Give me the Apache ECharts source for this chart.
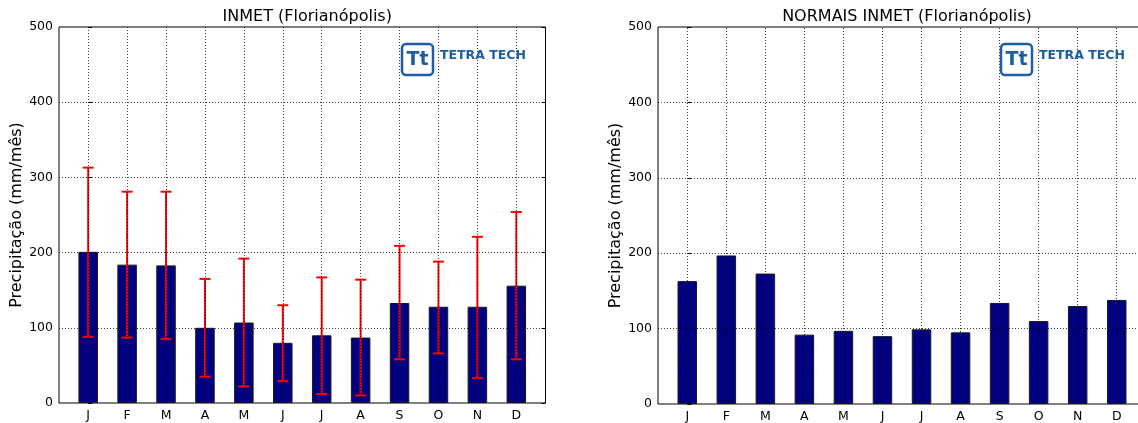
<!DOCTYPE html>
<html>
<head>
<meta charset="utf-8">
<script src="https://cdn.jsdelivr.net/npm/echarts@6/dist/echarts.min.js"></script>
<style>
html,body{margin:0;padding:0;background:#fff;}
#chart{width:1138px;height:423px;}
</style>
</head>
<body>
<div id="chart"></div>
<script>
// ---- data ----
const months = ['J','F','M','A','M','J','J','A','S','O','N','D'];
const inmetMean = [201, 184, 183, 100, 107, 80, 90, 87, 133, 128, 128, 156];
const inmetLow  = [88, 87, 85, 35, 22, 29, 12, 10, 58, 66, 33, 58];
const inmetHigh = [313, 281, 281, 165, 192, 130, 167, 164, 209, 188, 221, 254];
const normais   = [163, 197, 173, 92, 97, 90, 99, 95, 134, 110, 130, 138];
const yTicks = [0, 100, 200, 300, 400, 500];
const titles = ['INMET (Florianópolis)', 'NORMAIS INMET (Florianópolis)'];
const yName = 'Precipitação (mm/mês)';
const logoText = 'TETRA TECH';

// ---- layout ----
const FONT = 'DejaVu Sans';
const grids = [
  {left: 59, top: 27, width: 486.5, height: 376},
  {left: 658, top: 27, width: 488, height: 377}
];
const idx = months.map((_, i) => i);
const blue = '#1d5ea5';

const chart = echarts.init(document.getElementById('chart'), null, {renderer: 'canvas'});

function xAxisFor(g) {
  return {
    type: 'value', gridIndex: g, min: -0.75, max: 11.75,
    axisLine: {show: false},
    splitLine: {show: false},
    axisTick: {show: true, inside: true, length: 4, customValues: idx, lineStyle: {color: '#000'}},
    axisLabel: {
      customValues: idx, margin: 6,
      formatter: v => months[Math.round(v)],
      color: '#000', fontFamily: FONT, fontSize: 12.5
    }
  };
}
function yAxesFor(g, nameGap) {
  return [{
    type: 'value', gridIndex: g, min: yTicks[0], max: yTicks[yTicks.length - 1], interval: 100,
    name: yName, nameLocation: 'middle', nameGap: nameGap, nameRotate: 90,
    nameTextStyle: {fontFamily: FONT, fontSize: 16, color: '#000'},
    axisLine: {show: false},
    splitLine: {show: false},
    axisTick: {show: true, inside: true, length: 4, lineStyle: {color: '#000'}},
    axisLabel: {color: '#000', fontFamily: FONT, fontSize: 12.5, margin: 6}
  }, {
    type: 'value', gridIndex: g, position: 'right', min: yTicks[0], max: yTicks[yTicks.length - 1], interval: 100,
    axisLine: {show: false}, splitLine: {show: false},
    axisTick: {show: true, inside: true, length: 4, lineStyle: {color: '#000'}},
    axisLabel: {show: false}
  }];
}
function gridLines(xi, yi) {
  return {
    type: 'line', xAxisIndex: xi, yAxisIndex: yi, data: [], z: 10, silent: true,
    markLine: {
      silent: true, symbol: 'none', animation: false,
      label: {show: false},
      lineStyle: {color: '#000', type: [1, 2], width: 1, opacity: 0.75},
      emphasis: {disabled: true},
      data: idx.map(i => ({xAxis: i})).concat(yTicks.slice(1, -1).map(v => ({yAxis: v})))
    }
  };
}
function barSeries(xi, yi, vals) {
  return {
    type: 'bar', xAxisIndex: xi, yAxisIndex: yi, barWidth: 19.5, z: 2,
    data: vals.map((v, i) => [i, v]),
    itemStyle: {color: '#000080', borderColor: '#1a1a1a', borderWidth: 1},
    silent: true
  };
}
function logo(x0) {
  return [
    {type: 'rect', shape: {x: x0, y: 44, width: 31, height: 31, r: 4},
     style: {fill: '#fff', stroke: blue, lineWidth: 2.5}, z: 100},
    {type: 'text', x: x0 + 15.5, y: 60, z: 101,
     style: {text: 'Tt', fill: blue, font: 'bold 19px "DejaVu Sans"', textAlign: 'center', textVerticalAlign: 'middle'}},
    {type: 'text', x: x0 + 38, y: 56, z: 101,
     style: {text: logoText, fill: blue, font: 'bold 12.5px "DejaVu Sans"', textAlign: 'left', textVerticalAlign: 'middle'}}
  ];
}

const option = {
  animation: false,
  backgroundColor: '#fff',
  title: titles.map((t, i) => ({
    text: t, left: grids[i].left + grids[i].width / 2, top: 4, textAlign: 'center',
    textStyle: {fontFamily: FONT, fontSize: 16, fontWeight: 'normal', color: '#000'}
  })),
  grid: grids.map(g => Object.assign({show: true, borderColor: '#000', borderWidth: 1, backgroundColor: '#fff',
    containLabel: false, outerBoundsMode: 'none'}, g)),
  xAxis: [xAxisFor(0), xAxisFor(1)],
  yAxis: yAxesFor(0, 33).concat(yAxesFor(1, 33)),
  series: [
    barSeries(0, 0, inmetMean),
    {
      type: 'custom', xAxisIndex: 0, yAxisIndex: 0, z: 3, silent: true,
      data: idx.map(i => [i, inmetLow[i], inmetHigh[i]]),
      renderItem: function (params, api) {
        const lo = api.coord([api.value(0), api.value(1)]);
        const hi = api.coord([api.value(0), api.value(2)]);
        const hw = 5.5;
        const st = {stroke: '#ff0000', lineWidth: 2};
        return {type: 'group', children: [
          {type: 'line', shape: {x1: lo[0], y1: lo[1], x2: hi[0], y2: hi[1]}, style: st},
          {type: 'line', shape: {x1: lo[0] - hw, y1: lo[1], x2: lo[0] + hw, y2: lo[1]}, style: st},
          {type: 'line', shape: {x1: hi[0] - hw, y1: hi[1], x2: hi[0] + hw, y2: hi[1]}, style: st}
        ]};
      }
    },
    gridLines(0, 0),
    barSeries(1, 2, normais),
    gridLines(1, 2)
  ],
  graphic: logo(402).concat(logo(1001))
};
chart.setOption(option);
</script>
</body>
</html>
